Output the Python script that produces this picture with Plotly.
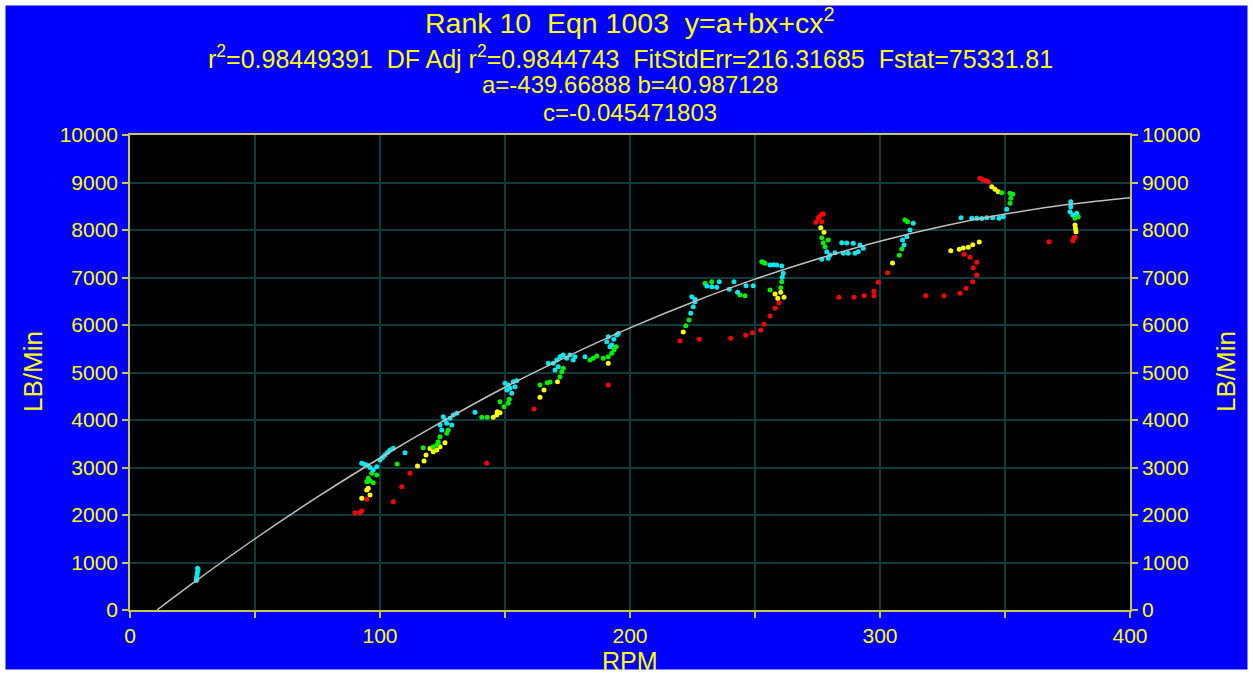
import plotly.graph_objects as go

# ---------------- data ----------------
fit_x = [10.8, 25, 50, 75, 100, 125, 150, 175, 200, 225, 250, 275, 300, 325, 350, 375, 400]
fit_y = [0, 560, 1500, 2380, 3200, 3970, 4690, 5340, 5940, 6480, 6965, 7390, 7765, 8080, 8335, 8535, 8680]

red_x = [92.0, 90.0, 92.7, 94.7, 105.3, 108.7, 112, 142.7, 161.6, 191.3, 220, 227.7, 240.3, 246.3, 249,
         252.3, 253.6, 256, 258.1, 259.6, 274.4, 275.3, 275.7, 276.7, 277.3, 276.7, 303, 299.3, 297.6,
         297.6, 293.7, 289.6, 283.6, 318.3, 325.6, 332, 334.4, 337.1, 338.7, 337.3, 338.7, 336, 333.6,
         340, 341.3, 342.3, 343.3, 367.6, 377.1, 377.6, 378]
red_y = [2049, 2049, 2091, 2330, 2281, 2596, 2877, 3088, 4232, 4737, 5663, 5698, 5719, 5783, 5838,
         5895, 6014, 6189, 6351, 6470, 8161, 8250, 8281, 8330, 8337, 8175, 7102, 6898, 6709,
         6618, 6618, 6583, 6583, 6618, 6618, 6667, 6772, 6912, 7053, 7207, 7319, 7425, 7488,
         9088, 9053, 9040, 9018, 7754, 7775, 7825, 7850]

yellow_x = [92.7, 96, 94.7, 95.3, 115, 117.6, 118.4, 120, 121.3, 122.7, 124, 126, 145.3, 146.7, 148, 146.9,
            164, 165.6, 171, 191.3, 221.3, 259.1, 261.6, 258, 260.3, 276.3, 277.6, 305, 328.3, 331.7,
            333.3, 335.3, 337.1, 339.7, 344.7, 346, 347.3, 378, 378.4, 378.2]
yellow_y = [2351, 2421, 2526, 2561, 3032, 3137, 3263, 3400, 3333, 3368, 3438, 3523, 4056, 4105, 4154, 4175,
            4477, 4632, 4807, 5193, 5853, 6562, 6583, 6653, 6688, 8049, 7951, 7305, 7565, 7593,
            7621, 7635, 7691, 7747, 8912, 8856, 8807, 8105, 7965, 8030]

green_x = [96.7, 98.7, 95.3, 94.7, 97.3, 96, 106.9, 117.3, 121.3, 122.7, 123.3, 124, 126.7, 127.3, 140.7,
           142.9, 148, 149.6, 151.3, 151.7, 164, 166.9, 168, 172, 172.7, 173.3, 184, 185.3, 186.7, 189.3,
           191.3, 192.7, 193.6, 194.5, 222.3, 223.6, 230, 232.7, 244, 246, 252.7, 254, 253.3, 256, 260.3,
           260.7, 276.7, 279.3, 277.3, 278, 307.7, 308.7, 310, 311, 348.7, 352, 353.1, 352.3, 352, 378, 379.3]
green_y = [2877, 2842, 2772, 2702, 2681, 2723, 3074, 3417, 3438, 3474, 3544, 3649, 3719, 3789, 4056,
           4056, 4386, 4281, 4351, 4435, 4737, 4786, 4800, 4912, 5018, 5088, 5263, 5298, 5347, 5300,
           5333, 5404, 5474, 5540, 5986, 6105, 6877, 6912, 6632, 6618, 7333, 7298, 7320, 6737, 6786,
           6912, 7839, 7789, 7733, 7649, 7467, 7600, 8211, 8175, 8786, 8772, 8751, 8667, 8561, 8246, 8281]

cyan_x = [26.5, 26.6, 26.8, 27, 27.2, 27.0, 26.7,
          92.7, 93.7, 94.7, 96, 97.3, 98.7, 100, 101, 102, 103, 104, 105.3, 110,
          124, 124.7, 125.3, 126, 126.7, 128, 128.7, 129.3, 130.7, 138,
          150, 150.7, 151.3, 152, 152.7, 153.3, 154, 154.7,
          167.3, 169.3, 170, 170.7, 171.3, 172, 173.3, 174.7, 176, 177.3, 178, 182,
          190.7, 191.3, 192, 192.7, 193.5, 194.7, 195.3,
          224.3, 225.3, 226, 226, 224.7,
          230.7, 232.7, 234.7, 235.7, 239.7, 241.6, 243, 246.4, 249.3,
          256, 258.7, 260.7, 261.3, 260.9, 257.3,
          278.7, 280, 279.3, 276.7, 282,
          284.7, 286.7, 289.3, 292, 293.3, 291.3, 290, 287.3, 285.3,
          313.3, 312, 310.7, 309, 309.6,
          332.4, 336.7, 338.7, 340.7, 342.7, 345.1, 347.6, 349.3, 350.7,
          376.3, 376.3, 376, 377.1, 378.7]
cyan_y = [620, 680, 740, 800, 860, 880, 650,
          3088, 3070, 3053, 3000, 2947, 3017, 3158, 3210, 3263, 3316, 3368, 3403, 3312,
          3895, 3789, 4070, 4000, 3930, 4035, 3895, 4105, 4140, 4161,
          4772, 4632, 4737, 4667, 4561, 4807, 4702, 4828,
          5193, 5193, 5053, 5263, 5123, 5333, 5368, 5300, 5368, 5263, 5333, 5333,
          5649, 5754, 5544, 5579, 5700, 5789, 5823,
          6246, 6386, 6491, 6540, 6596,
          6821, 6807, 6793, 6912, 6751, 6912, 6688, 6828, 6828,
          7263, 7263, 7242, 7088, 7004, 7270,
          7544, 7474, 7404, 7383, 7523,
          7733, 7726, 7719, 7684, 7614, 7544, 7510, 7509, 7509,
          8140, 8000, 7859, 7789, 7684,
          8260, 8246, 8246, 8240, 8260, 8260, 8246, 8281, 8435,
          8596, 8491, 8386, 8316, 8351]

x_ticks = [0, 100, 200, 300, 400]
x_tick_text = ["0", "100", "200", "300", "400"]
y_ticks = [0, 1000, 2000, 3000, 4000, 5000, 6000, 7000, 8000, 9000, 10000]
y_tick_text = ["0", "1000", "2000", "3000", "4000", "5000", "6000", "7000", "8000", "9000", "10000"]

title_lines = [
    "Rank 10  Eqn 1003  y=a+bx+cx<sup>2</sup>",
    "r<sup>2</sup>=0.98449391  DF Adj r<sup>2</sup>=0.9844743  FitStdErr=216.31685  Fstat=75331.81",
    "a=-439.66888 b=40.987128",
    "c=-0.045471803",
]

# ---------------- styles ----------------
FONT = "Liberation Sans, Arial, sans-serif"
YEL = "#ffff00"
AXIS = "#c8c850"
GRID = "#0e3c3c"
BLUE = "#0000ff"
TICK_SIZE = 21

fig = go.Figure()
for xs, ys, col in [(red_x, red_y, "#ff0000"), (yellow_x, yellow_y, "#ffff00"),
                    (green_x, green_y, "#00ee00"), (cyan_x, cyan_y, "#00e8f0")]:
    fig.add_trace(go.Scatter(x=xs, y=ys, mode="markers", marker=dict(color=col, size=5, line=dict(width=0)),
                             showlegend=False))
# fitted curve (on the right-hand y axis, which shares the same scale)
fig.add_trace(go.Scatter(x=fit_x, y=fit_y, yaxis="y2", mode="lines",
                         line=dict(color="#c0c0c0", width=1.5, shape="spline"),
                         hoverinfo="skip", showlegend=False))

W, H = 1253, 675
L, R, T, B = 130, 123, 135, 65
pw, ph = W - L - R, H - T - B

def px(xp):
    return (xp - L) / pw

def py(yp):
    return (H - B - yp) / ph

common_axis = dict(showline=True, linecolor=AXIS, linewidth=1.5, ticks="outside", tickcolor=AXIS,
                   ticklen=6, tickwidth=1.5, tickfont=dict(color=YEL, size=TICK_SIZE, family=FONT),
                   zeroline=False)

fig.update_layout(
    width=W, height=H,
    margin=dict(l=L, r=R, t=T, b=B, pad=0),
    paper_bgcolor=BLUE, plot_bgcolor="#000000",
    font=dict(family=FONT, color=YEL),
    xaxis=dict(range=[0, 400], tickvals=x_ticks, ticktext=x_tick_text, showgrid=True, gridcolor=GRID,
               gridwidth=1.5, mirror=True,
               minor=dict(dtick=50, tick0=0, showgrid=True, gridcolor=GRID, gridwidth=1.5,
                          ticks="outside", ticklen=6, tickcolor=AXIS, tickwidth=1.5),
               **common_axis),
    yaxis=dict(range=[0, 10000], tickvals=y_ticks, ticktext=y_tick_text, showgrid=True, gridcolor=GRID,
               gridwidth=1.5, **common_axis),
    yaxis2=dict(range=[0, 10000], tickvals=y_ticks, ticktext=y_tick_text, overlaying="y", side="right",
                showgrid=False, anchor="x", **common_axis),
    showlegend=False,
)

annos = []
ys_title = [21, 57, 85, 113]
sizes = [28.5, 25, 24, 24]
for txt, yp, s in zip(title_lines, ys_title, sizes):
    annos.append(dict(text=txt, x=0.5, y=py(yp), xref="paper", yref="paper", showarrow=False,
                      xanchor="center", yanchor="middle", font=dict(size=s, color=YEL, family=FONT)))
annos.append(dict(text="RPM", x=0.5, y=py(661), xref="paper", yref="paper", showarrow=False,
                  xanchor="center", yanchor="middle", font=dict(size=25, color=YEL, family=FONT)))
annos.append(dict(text="LB/Min", x=px(33), y=py(372), xref="paper", yref="paper", showarrow=False,
                  textangle=-90, xanchor="center", yanchor="middle", font=dict(size=26, color=YEL, family=FONT)))
annos.append(dict(text="LB/Min", x=px(1226), y=py(372), xref="paper", yref="paper", showarrow=False,
                  textangle=-90, xanchor="center", yanchor="middle", font=dict(size=26, color=YEL, family=FONT)))
fig.update_layout(annotations=annos)

# white frame round the blue page
fig.add_shape(type="rect", xref="paper", yref="paper", x0=px(2.5), x1=px(W - 2.5), y0=py(H - 2.5), y1=py(2.5),
              line=dict(color="#ffffff", width=6), fillcolor="rgba(0,0,0,0)", layer="above")

fig.write_html("out.html", config={"displayModeBar": False},
               post_script="document.body.style.margin='0px';document.body.style.overflow='hidden';")
